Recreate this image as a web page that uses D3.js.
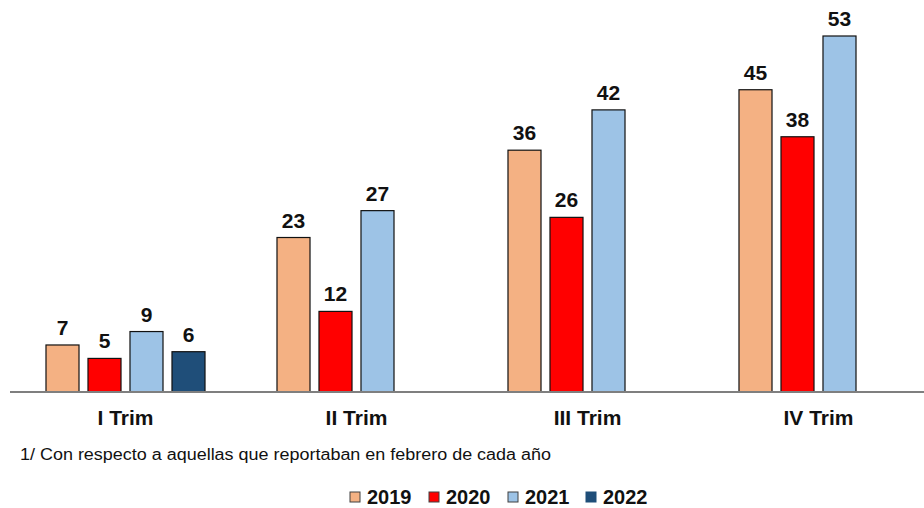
<!DOCTYPE html>
<html>
<head>
<meta charset="utf-8">
<script src="https://cdn.jsdelivr.net/npm/d3@7"></script>
<style>
  html, body { margin: 0; padding: 0; background: #fff; }
  svg { display: block; font-family: "Liberation Sans", Arial, sans-serif; }
</style>
</head>
<body>
<svg id="chart" width="924" height="508"></svg>
<script>
const categories = ["I Trim", "II Trim", "III Trim", "IV Trim"];
const seriesNames = ["2019", "2020", "2021", "2022"];
const seriesColors = ["#F4B183", "#FF0000", "#9DC3E6", "#1F4E79"];
const values2019 = [7, 23, 36, 45];
const values2020 = [5, 12, 26, 38];
const values2021 = [9, 27, 42, 53];
const values2022 = [6, null, null, null];
const footnote = "1/ Con respecto a aquellas que reportaban en febrero de cada año";

const seriesValues = [values2019, values2020, values2021, values2022];

const svg = d3.select("#chart");
const baseY = 392;

const x0 = d3.scaleBand().domain(categories).range([10, 934]).padding(0);
const x1 = d3.scaleBand().domain(seriesNames).range([0, x0.bandwidth()])
  .paddingInner(0.214).paddingOuter(0.857);
const y = d3.scaleLinear().domain([0, 53]).range([baseY, 36]);

const data = [];
categories.forEach((c, i) => {
  seriesNames.forEach((s, j) => {
    const v = seriesValues[j][i];
    if (v != null) data.push({ cat: c, series: s, value: v, color: seriesColors[j] });
  });
});

const bars = svg.append("g");
bars.selectAll("rect").data(data).join("rect")
  .attr("x", d => x0(d.cat) + x1(d.series))
  .attr("y", d => y(d.value))
  .attr("width", x1.bandwidth())
  .attr("height", d => baseY - y(d.value))
  .attr("fill", d => d.color)
  .attr("stroke", "#111")
  .attr("stroke-width", 1.2);

bars.selectAll("text").data(data).join("text")
  .attr("x", d => x0(d.cat) + x1(d.series) + x1.bandwidth() / 2)
  .attr("y", d => y(d.value) - 10)
  .attr("text-anchor", "middle")
  .attr("font-size", "21px")
  .attr("font-weight", "bold")
  .attr("fill", "#111")
  .text(d => d.value);

// x axis
const xAxis = d3.axisBottom(x0).tickSize(0).tickPadding(0);
const gx = svg.append("g").attr("transform", `translate(0,${baseY})`).call(xAxis);
gx.select(".domain").attr("d", `M10,0H924`).attr("stroke", "#7f7f7f").attr("stroke-width", 2);
gx.selectAll(".tick text")
  .attr("y", 33)
  .attr("dy", 0)
  .attr("font-size", "21px")
  .attr("font-weight", "bold")
  .attr("font-family", "'Liberation Sans', Arial, sans-serif")
  .attr("fill", "#111");

// footnote
svg.append("text")
  .attr("x", 20).attr("y", 460)
  .attr("font-size", "16px")
  .attr("fill", "#111")
  .attr("textLength", 531)
  .attr("lengthAdjust", "spacingAndGlyphs")
  .text(footnote);

// legend
const legendX = [350, 429, 508, 586];
const legend = svg.append("g");
seriesNames.forEach((s, j) => {
  legend.append("rect")
    .attr("x", legendX[j]).attr("y", 492)
    .attr("width", 10).attr("height", 10)
    .attr("fill", seriesColors[j])
    .attr("stroke", j === 3 ? seriesColors[j] : "#404040")
    .attr("stroke-width", 1);
  legend.append("text")
    .attr("x", legendX[j] + 17).attr("y", 504)
    .attr("font-size", "20px")
    .attr("font-weight", "bold")
    .attr("fill", "#111")
    .text(s);
});
</script>
</body>
</html>
